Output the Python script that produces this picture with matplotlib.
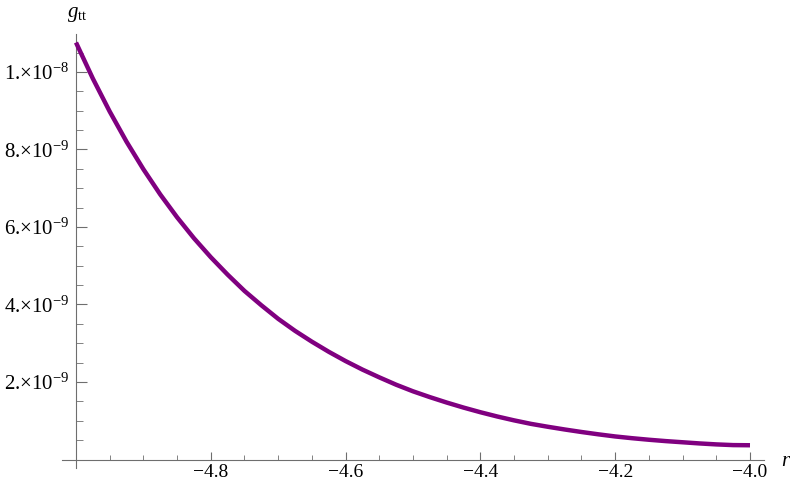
"""
plot.py
-------
Componente g_tt de la métrica frente a r (estilo Mathematica).
"""

import matplotlib
matplotlib.use("Agg")
import matplotlib.pyplot as plt
import matplotlib.ticker as mtick
import numpy as np

# \\\\\\\\\\\
# Datos
# \\\\\\\\\\\

r_vals = [-5.000, -4.975, -4.950, -4.925, -4.900, -4.875, -4.850, -4.825, -4.800, -4.775,
          -4.750, -4.725, -4.700, -4.675, -4.650, -4.625, -4.600, -4.575, -4.550, -4.525,
          -4.500, -4.475, -4.450, -4.425, -4.400, -4.375, -4.350, -4.325, -4.300, -4.275,
          -4.250, -4.225, -4.200, -4.175, -4.150, -4.125, -4.100, -4.075, -4.050, -4.025,
          -4.000]
gtt_vals = [10.76, 9.83, 8.98, 8.20, 7.49, 6.84, 6.25, 5.71, 5.22, 4.77,
            4.35, 3.98, 3.63, 3.32, 3.04, 2.78, 2.54, 2.32, 2.12, 1.93,
            1.76, 1.61, 1.47, 1.34, 1.22, 1.11, 1.01, 0.92, 0.845, 0.775,
            0.71, 0.65, 0.595, 0.55, 0.51, 0.475, 0.445, 0.415, 0.39, 0.372,
            0.368]  # x 1e-9

x_major = [-4.8, -4.6, -4.4, -4.2, -4.0]
x_labels = ["\u22124.8", "\u22124.6", "\u22124.4", "\u22124.2", "\u22124.0"]
y_major = [2e-9, 4e-9, 6e-9, 8e-9, 1e-8]
y_labels = ["2.\u00d710$^{-9}$", "4.\u00d710$^{-9}$", "6.\u00d710$^{-9}$",
            "8.\u00d710$^{-9}$", "1.\u00d710$^{-8}$"]

# \\\\\\\\\\\
# Estilo
# \\\\\\\\\\\

plt.rcParams.update({
    "font.family": "serif",
    "font.serif": ["Liberation Serif"],
    "mathtext.fontset": "custom",
    "mathtext.rm": "Liberation Serif",
    "mathtext.it": "Liberation Serif:italic",
    "mathtext.bf": "Liberation Serif:bold",
})

AXIS_COLOR = "#6e6e6e"
W, H = 790, 486

fig = plt.figure(figsize=(W / 100, H / 100), dpi=100)
ax = fig.add_axes([62 / W, 1 - 468 / H, (764 - 62) / W, (468 - 34) / H])

x = np.array(r_vals)
y = np.array(gtt_vals) * 1e-9
ax.plot(x, y, color="#800080", lw=3.2, solid_capstyle="butt", clip_on=False, zorder=3)

ax.set_xlim(-5 - 14 / 674, -4 + 14 / 674)
ax.set_ylim(-0.219e-9, 10.98e-9)

# ejes cruzados al estilo Mathematica
for side in ("top", "right"):
    ax.spines[side].set_visible(False)
ax.spines["left"].set_position(("data", -5.0))
ax.spines["bottom"].set_position(("data", 0.0))
for side in ("left", "bottom"):
    ax.spines[side].set_color(AXIS_COLOR)
    ax.spines[side].set_linewidth(0.8)

ax.set_xticks(x_major)
ax.set_xticklabels(x_labels)
ax.xaxis.set_minor_locator(mtick.FixedLocator(np.arange(-4.95, -3.99, 0.05)))
ax.set_yticks(y_major)
ax.set_yticklabels(y_labels)
ax.yaxis.set_minor_locator(mtick.FixedLocator(np.arange(0.5e-9, 10.6e-9, 0.5e-9)))

ax.tick_params(axis="x", which="major", direction="in", length=6, width=0.8,
               color=AXIS_COLOR, labelsize=14, pad=3)
ax.tick_params(axis="x", which="minor", direction="in", length=3.5, width=0.6,
               color=AXIS_COLOR)
ax.tick_params(axis="y", which="major", direction="in", length=8, width=0.8,
               color=AXIS_COLOR, labelsize=15, pad=5)
ax.tick_params(axis="y", which="minor", direction="in", length=5, width=0.6,
               color=AXIS_COLOR)

# etiquetas de ejes
fig.text(77 / W, 1 - 14 / H, r"$g_{\mathrm{tt}}$", ha="center", va="center", fontsize=15)
fig.text(786 / W, 1 - 461 / H, r"$r$", ha="center", va="center", fontsize=15)

fig.savefig("out.png", dpi=100, facecolor="white")
plt.close(fig)
